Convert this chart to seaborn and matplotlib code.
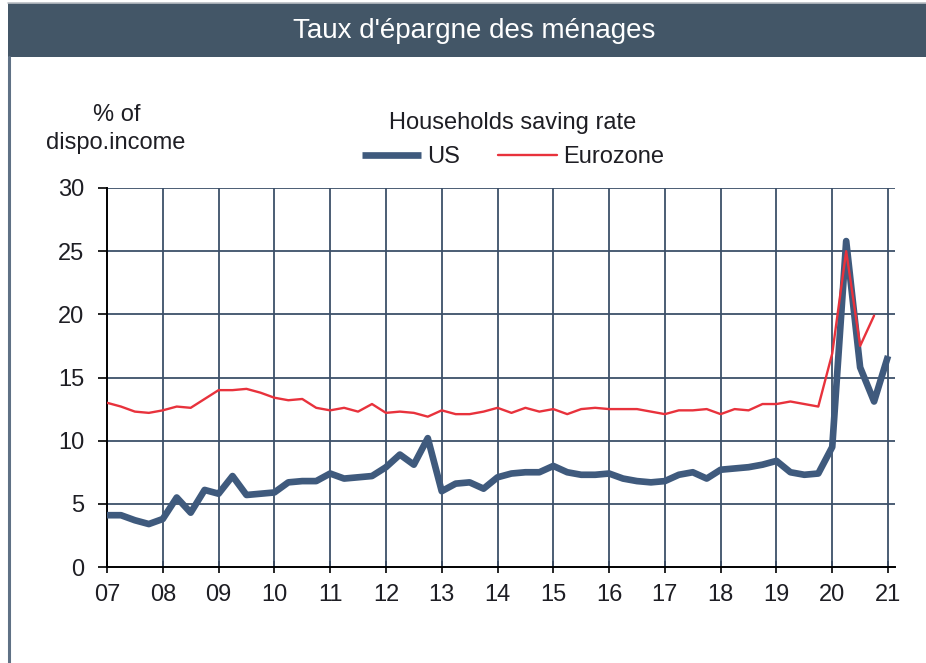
import numpy as np
import pandas as pd
import matplotlib
matplotlib.use("Agg")
import matplotlib.pyplot as plt
from matplotlib.patches import Rectangle
from matplotlib.lines import Line2D
import seaborn as sns

# ---- data (quarterly, 2007Q1 .. ) ----
start_year = 2007
us_rate = [4.1, 4.1, 3.7, 3.4,
           3.8, 5.5, 4.3, 6.1,
           5.8, 7.2, 5.7, 5.8,
           5.9, 6.7, 6.8, 6.8,
           7.4, 7.0, 7.1, 7.2,
           7.9, 8.9, 8.1, 10.2,
           6.0, 6.6, 6.7, 6.2,
           7.1, 7.4, 7.5, 7.5,
           8.0, 7.5, 7.3, 7.3,
           7.4, 7.0, 6.8, 6.7,
           6.8, 7.3, 7.5, 7.0,
           7.7, 7.8, 7.9, 8.1,
           8.4, 7.5, 7.3, 7.4,
           9.5, 25.8, 15.8, 13.1,
           16.7]
ez_rate = [13.0, 12.7, 12.3, 12.2,
           12.4, 12.7, 12.6, 13.3,
           14.0, 14.0, 14.1, 13.8,
           13.4, 13.2, 13.3, 12.6,
           12.4, 12.6, 12.3, 12.9,
           12.2, 12.3, 12.2, 11.9,
           12.4, 12.1, 12.1, 12.3,
           12.6, 12.2, 12.6, 12.3,
           12.5, 12.1, 12.5, 12.6,
           12.5, 12.5, 12.5, 12.3,
           12.1, 12.4, 12.4, 12.5,
           12.1, 12.5, 12.4, 12.9,
           12.9, 13.1, 12.9, 12.7,
           16.9, 25.0, 17.5, 19.9]
year_ticks = list(range(2007, 2022))
year_labels = ["07", "08", "09", "10", "11", "12", "13", "14", "15", "16",
               "17", "18", "19", "20", "21"]
y_ticks = [0, 5, 10, 15, 20, 25, 30]

title_text = "Taux d'épargne des ménages"
legend_title = "Households saving rate"
series_names = ["US", "Eurozone"]

us_df = pd.DataFrame({"date": [start_year + i / 4 for i in range(len(us_rate))],
                      "rate": us_rate})
ez_df = pd.DataFrame({"date": [start_year + i / 4 for i in range(len(ez_rate))],
                      "rate": ez_rate})

# ---- style ----
sns.set_theme(style="white")
plt.rcParams["font.family"] = ["Liberation Sans", "DejaVu Sans"]
TXT = "#1e1e24"
GRID = "#3d5069"
US_COL = "#3f5a7d"
EZ_COL = "#e8323c"
BAR = "#435667"

W, H = 926, 663
fig = plt.figure(figsize=(W / 100, H / 100), dpi=100)
fig.patch.set_facecolor("white")

# title bar
fig.patches.append(Rectangle((8 / W, 1 - 57 / H), 1 - 8 / W, 54 / H,
                             transform=fig.transFigure, facecolor=BAR,
                             edgecolor="none", zorder=0))
fig.lines.append(Line2D([8 / W, 1], [1 - 3 / H, 1 - 3 / H], transform=fig.transFigure,
                        color="#b9bec4", lw=1.2))
fig.lines.append(Line2D([8.5 / W, 8.5 / W], [0, 1 - 57 / H], transform=fig.transFigure,
                        color="#5f7185", lw=2.2))
fig.text(474 / W, 1 - 31 / H, title_text, color="white", fontsize=20,
         ha="center", va="center")

# axes
left, right, top, bottom = 107, 895, 188, 567
ax = fig.add_axes([left / W, 1 - bottom / H, (right - left) / W, (bottom - top) / H])
ax.set_facecolor("white")

sns.lineplot(data=us_df, x="date", y="rate", ax=ax, color=US_COL, lw=4.8,
             solid_joinstyle="round", solid_capstyle="butt", zorder=4, label=series_names[0])
sns.lineplot(data=ez_df, x="date", y="rate", ax=ax, color=EZ_COL, lw=1.7,
             zorder=5, label=series_names[1])

ax.set_xlim(2007, 2021.125)
ax.set_ylim(0, 30)
ax.set_xticks(year_ticks)
ax.set_xticklabels(year_labels)
ax.set_yticks(y_ticks)
ax.set_xlabel("")
ax.set_ylabel("")

for yv in y_ticks[1:]:
    ax.axhline(yv, color=GRID, lw=1.3, zorder=1)
for xv in year_ticks[1:]:
    ax.axvline(xv, color=GRID, lw=1.3, zorder=1)

for s in ["top", "right"]:
    ax.spines[s].set_visible(False)
for s in ["left", "bottom"]:
    ax.spines[s].set_color("black")
    ax.spines[s].set_linewidth(1.4)
    ax.spines[s].set_zorder(3)

ax.tick_params(axis="y", direction="out", length=6.5, width=1.2, color="black",
               pad=10, labelsize=17, labelcolor=TXT, left=True)
ax.tick_params(axis="x", direction="inout", length=8, width=1.2, color="black",
               pad=8.5, labelsize=17, labelcolor=TXT, bottom=True)

# legend
leg = ax.legend(title=legend_title, ncol=2, loc="center",
                bbox_to_anchor=((513) / W, 1 - 140 / H),
                bbox_transform=fig.transFigure, frameon=False,
                fontsize=17, title_fontsize=17, handlelength=2.5,
                handletextpad=0.25, columnspacing=1.6, borderaxespad=0,
                borderpad=0)
leg.get_title().set_color(TXT)
for t in leg.get_texts():
    t.set_color(TXT)

fig.text(117 / W, 1 - 115 / H, "% of", fontsize=17, color=TXT, ha="center", va="center")
fig.text(116 / W, 1 - 143 / H, "dispo.income", fontsize=17, color=TXT, ha="center", va="center")

fig.savefig("out.png", dpi=100, facecolor="white")
